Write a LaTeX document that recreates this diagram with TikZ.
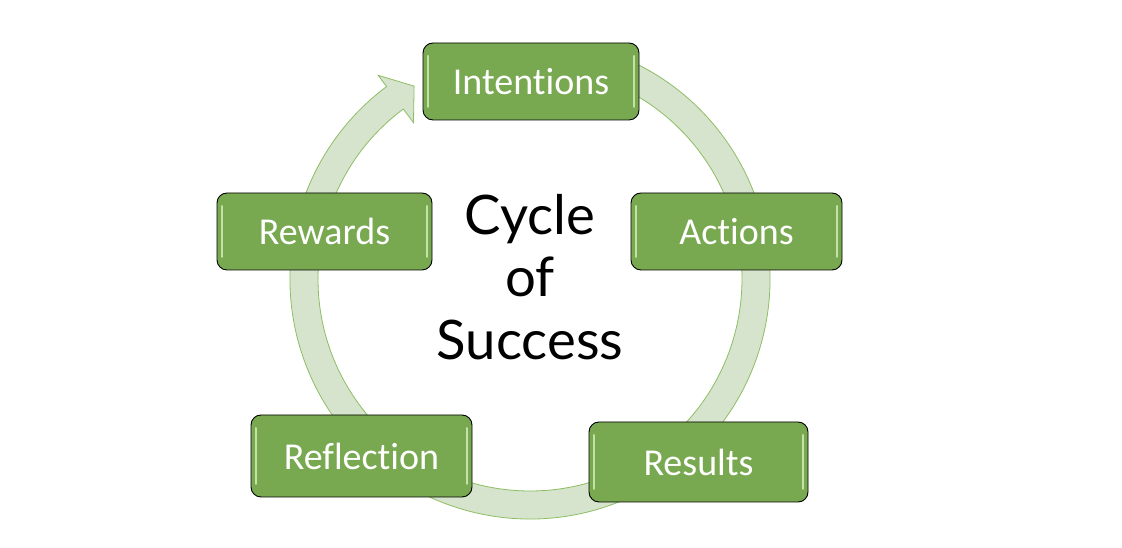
\documentclass[tikz,border=0pt]{standalone}
\usepackage{fontspec}
\setmainfont[Ligatures={NoCommon}]{Carlito}
\newfontfamily\titlefont{Lato}
\definecolor{ringfill}{RGB}{215,228,205}
\definecolor{ringline}{RGB}{140,190,100}
\definecolor{boxfill}{RGB}{120,168,80}
\definecolor{boxhi}{RGB}{196,226,166}
\begin{document}
\begin{tikzpicture}[x=1pt,y=1pt,
  stagebox/.style={draw=black, line width=0.9pt, fill=boxfill, rounded corners=10pt,
    text=white, font=\fontsize{38}{40}\selectfont, inner sep=0pt,
    path picture={
      \draw[boxhi, line width=2pt, line cap=round]
        ([xshift=5pt,yshift=-13pt]path picture bounding box.north west) --
        ([xshift=5pt,yshift=13pt]path picture bounding box.south west);
      \draw[boxhi, line width=2pt, line cap=round]
        ([xshift=-5pt,yshift=-13pt]path picture bounding box.north east) --
        ([xshift=-5pt,yshift=13pt]path picture bounding box.south east);
    }},
  titletext/.style={font=\titlefont\fontsize{54.5}{62}\selectfont, text=black, inner sep=0pt, anchor=base}
]
\useasboundingbox (0,0) rectangle (1122,548);
\fill[white] (0,0) rectangle (1122,548);
% ring with arrowhead
\begin{scope}[shift={(530,269)}]
\filldraw[fill=ringfill, draw=ringline, line width=0.8pt]
  (75:240) arc[start angle=75, end angle=-233.3, radius=240]
  -- (126.7:254) -- (121:225) -- (126.7:195)
  -- (126.7:212) arc[start angle=-233.3, end angle=75, radius=212] -- cycle;
\end{scope}
% stages
\node[stagebox, minimum width=216pt, minimum height=77pt] (intentions) at (531,466.5) {Intent\kern0pt ions};
\node[stagebox, minimum width=211pt, minimum height=77pt] (actions) at (736.5,316.5) {Act\kern0pt ions};
\node[stagebox, minimum width=219pt, minimum height=80pt] (results) at (698.5,86) {Results};
\node[stagebox, minimum width=221pt, minimum height=82pt] (reflection) at (361.5,92) {Reflect\kern0pt ion};
\node[stagebox, minimum width=215pt, minimum height=77pt] (rewards) at (324.5,316.5) {Rewards};
% title
\node[titletext] (t1) at (530,313) {Cycle};
\node[titletext] (t2) at (530,251) {of};
\node[titletext] (t3) at (530,188) {Success};
\end{tikzpicture}
\end{document}
